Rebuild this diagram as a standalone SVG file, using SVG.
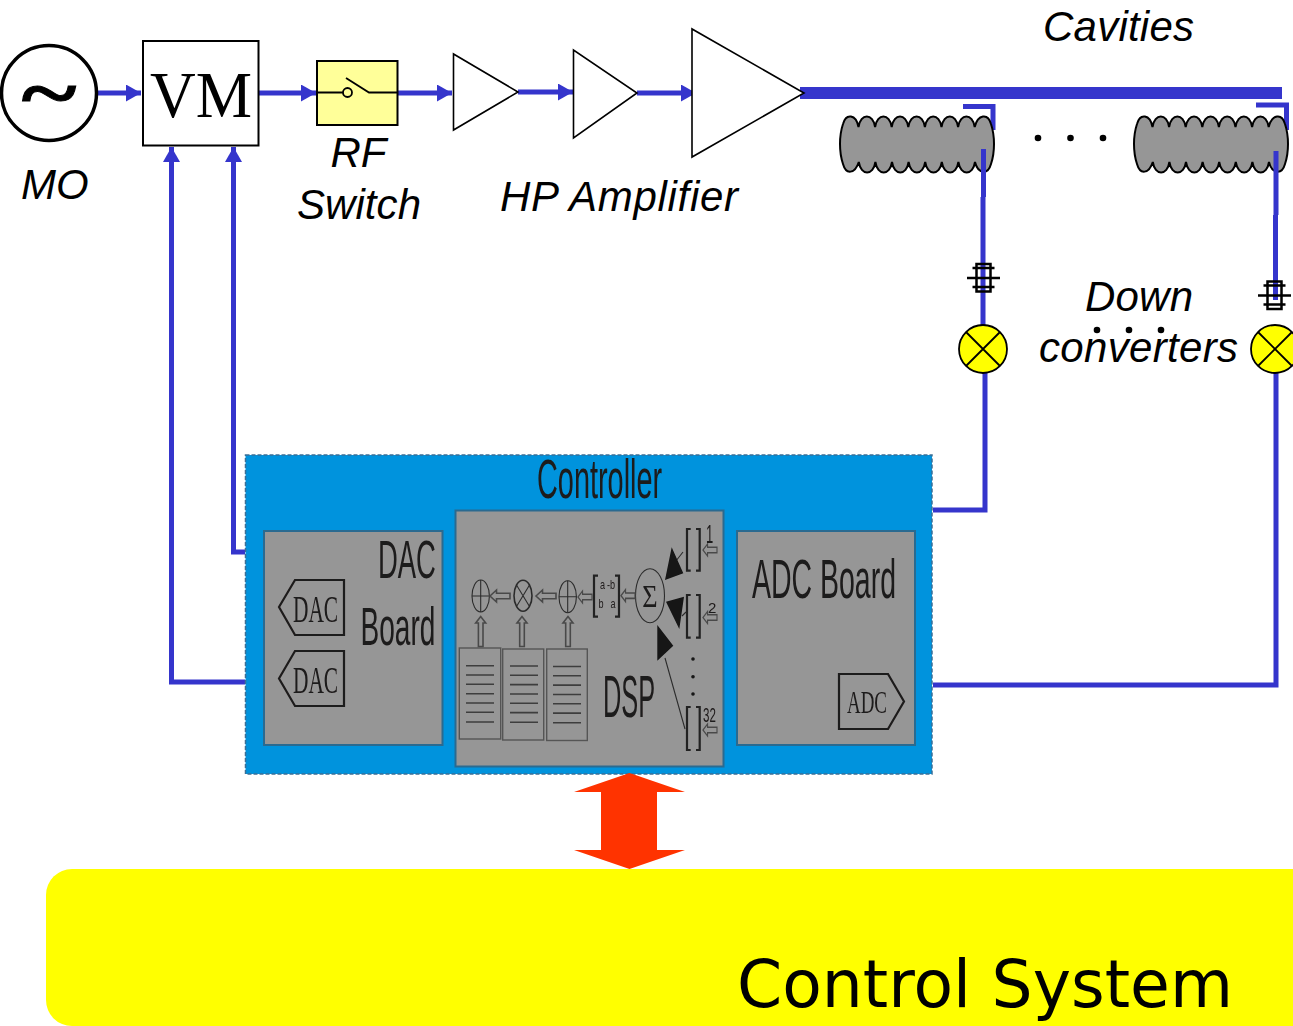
<svg xmlns="http://www.w3.org/2000/svg" width="1293" height="1026" viewBox="0 0 1293 1026">
<style>
.lbl{font-family:"Liberation Sans",Arial,sans-serif;font-style:italic;font-size:42px;fill:#000}
.amp{fill:#fff;stroke:#000;stroke-width:1.6}
.c{fill:none;stroke:#3535cc;stroke-width:5}
.cav{fill:#969696;stroke:#000;stroke-width:2}
.filt{fill:none;stroke:#000;stroke-width:2.5}
.mix{fill:#ffff00;stroke:#000;stroke-width:1.8}
.mixl{stroke:#000;stroke-width:1.8}
.board{fill:#969696;stroke:#2a6a90;stroke-width:2}
.bt{font-family:"Liberation Sans",Arial,sans-serif;fill:#1e1a1a}
.st{font-family:"Liberation Serif","Times New Roman",serif;fill:#1e1a1a}
.pent{fill:none;stroke:#1e1a1a;stroke-width:2.2}
.thin{fill:none;stroke:#2c2c2c;stroke-width:1.1}
.hol{fill:none;stroke:#4a4a4a;stroke-width:1.6}
.tbl{fill:#969696;stroke:#555;stroke-width:1.4}
.tl{stroke:#3c3c3c;stroke-width:1.6}
.br{fill:none;stroke:#222;stroke-width:2.2}
.blk{fill:#141414}
</style>
<defs>
<marker id="ah" markerUnits="userSpaceOnUse" markerWidth="16" markerHeight="17" refX="15" refY="8.5" orient="auto"><path d="M0 0L15 8.5L0 17Z" fill="#3535cc"/></marker>
<path id="cavity" d="M18.500 11c2-14 14.600-14 16.600 0c2-14 14.600-14 16.600 0c2-14 14.600-14 16.600 0c2-14 14.600-14 16.600 0c2-14 14.600-14 16.600 0c2-14 14.600-14 16.600 0c2-14 14.600-14 16.600 0C138-2 148-3 151 8C155 20 155 36 151 48C148 59 138 58 135 46c-2 14-14.600 14-16.600 0c-2 14-14.600 14-16.600 0c-2 14-14.600 14-16.600 0c-2 14-14.600 14-16.600 0c-2 14-14.600 14-16.600 0c-2 14-14.600 14-16.600 0c-2 14-14.600 14-16.600 0C15 58 6 59 3 48C-1 36-1 20 3 8C6-3 16-2 18.500 11Z"/>
<g id="filter"><rect x="-7" y="-14" width="14" height="27.500"/><path d="M-16.500 0H16.500M-11-10H11M-11 9H11"/></g>
<g id="mixer"><circle r="24" class="mix"/><path class="mixl" d="M-17-17L17 17M17-17L-17 17"/></g>
<path id="hl" d="M0 0L6.500-6V-2.700H20V2.700H6.500V6Z"/>
<path id="hu" d="M0 0L-5 6.500H-2.300V30H2.300V6.500H5Z"/>
<g id="lines"><path class="tl" d="M0 0H28M0 9.300H28M0 18.600H28M0 28H28M0 37.300H28M0 46.600H28M0 56.300H28"/></g>
<filter id="soft" x="-2%" y="-2%" width="104%" height="104%"><feGaussianBlur stdDeviation="0.55"/></filter>
</defs>

<g id="connectors">
<path class="c" marker-end="url(#ah)" d="M97 93H141"/>
<path class="c" marker-end="url(#ah)" d="M259 93H316"/>
<path class="c" marker-end="url(#ah)" d="M397 93H452"/>
<path class="c" marker-end="url(#ah)" d="M518 92H573"/>
<path class="c" marker-end="url(#ah)" d="M637 93H696"/>
<path d="M800 93H1282" fill="none" stroke="#3535cc" stroke-width="12"/>
<path class="c" marker-end="url(#ah)" d="M245 682H171.500V147"/>
<path class="c" marker-end="url(#ah)" d="M245 552H233.500V147"/>
<path class="c" d="M933 510H985V373"/>
<path class="c" d="M933 685H1276V373"/>
<path class="c" d="M963 106.500H993V130"/>
<path class="c" d="M1256 105H1286.500V130"/>
</g>

<g id="node-cavity-1"><use href="#cavity" x="840" y="116" class="cav"/></g>
<g id="node-cavity-2"><use href="#cavity" x="1134" y="116" class="cav"/></g>
<g id="connectors-pickup">
<path class="c" d="M983.500 149V197M983 197V325"/>
<path class="c" d="M1276 151V215M1275.500 215V300"/>
</g>

<g id="node-mo">
<circle cx="49" cy="93" r="47.500" fill="#fff" stroke="#000" stroke-width="3.500"/>
<text transform="translate(49 119) scale(1 .75)" text-anchor="middle" font-family="'Liberation Serif',serif" font-weight="bold" font-size="105" stroke="#000" stroke-width="1.200">~</text>
</g>
<text class="lbl" x="21" y="199">MO</text>

<g id="node-vm">
<rect x="143" y="41" width="115.500" height="104.500" fill="#fff" stroke="#000" stroke-width="2"/>
<text x="150" y="116.500" font-family="'Liberation Serif',serif" font-size="66" textLength="102" lengthAdjust="spacingAndGlyphs">VM</text>
</g>

<g id="node-rf-switch">
<rect x="317" y="61" width="80.500" height="64" fill="#ffff99" stroke="#000" stroke-width="2"/>
<path d="M318 92.500H343M346 78L369 92.500H397" fill="none" stroke="#000" stroke-width="1.800"/>
<circle cx="347.500" cy="92.500" r="4.500" fill="#ffff99" stroke="#000" stroke-width="1.800"/>
<text class="lbl" x="330.500" y="167">RF</text>
<text class="lbl" x="297" y="219" textLength="124" lengthAdjust="spacing">Switch</text>
</g>

<g id="node-amp-1"><path class="amp" d="M453.500 54V130L518 92Z"/></g>
<g id="node-amp-2"><path class="amp" d="M573.500 50V138L637 93Z"/></g>
<g id="node-amp-3"><path class="amp" d="M692 29V157L804 93Z"/></g>
<text class="lbl" x="500" y="211" textLength="238" lengthAdjust="spacing">HP Amplifier</text>
<text class="lbl" x="1043" y="41" textLength="151" lengthAdjust="spacing">Cavities</text>
<text class="lbl" x="1085" y="311" textLength="108" lengthAdjust="spacing">Down</text>
<text class="lbl" x="1039" y="362" textLength="199" lengthAdjust="spacing">converters</text>

<g id="dots" fill="#000">
<circle cx="1038" cy="138" r="3.300"/><circle cx="1070.500" cy="138" r="3.300"/><circle cx="1103" cy="138" r="3.300"/>
<circle cx="1097" cy="330" r="3.300"/><circle cx="1129" cy="330" r="3.300"/><circle cx="1161" cy="330" r="3.300"/>
</g>

<g id="node-filter-1"><use href="#filter" x="983.500" y="278" class="filt"/></g>
<g id="node-filter-2"><use href="#filter" x="1274.500" y="295.500" class="filt"/></g>
<g id="node-mixer-1"><use href="#mixer" x="983" y="349"/></g>
<g id="node-mixer-2"><use href="#mixer" x="1275" y="349"/></g>

<g id="node-controller">
<rect x="245.500" y="455" width="686.500" height="319" fill="#0093dd" stroke="#3a6f96" stroke-width="1.500" stroke-dasharray="4 2"/>
<g filter="url(#soft)">
<text class="bt" transform="translate(537 498) scale(.525 1)" font-size="55">Controller</text>

<g id="dac-board">
<rect class="board" x="264" y="531" width="178.500" height="214"/>
<text class="bt" transform="translate(378 578) scale(.518 1)" font-size="53">DAC</text>
<text class="bt" transform="translate(360.500 645) scale(.53 1)" font-size="53">Board</text>
<path class="pent" d="M279 607L295 580H344V635H295Z"/>
<path class="pent" d="M279 678.500L295 651H344V706H295Z"/>
<text class="st" transform="translate(293 622) scale(.5625 1)" font-size="38">DAC</text>
<text class="st" transform="translate(293 693) scale(.5625 1)" font-size="38">DAC</text>
</g>

<g id="dsp">
<rect class="board" x="455.500" y="510.500" width="268" height="256"/>
<rect class="tbl" x="459.300" y="648" width="41.400" height="91"/>
<rect class="tbl" x="502.700" y="649" width="41" height="91"/>
<rect class="tbl" x="546.700" y="649" width="40.600" height="91.500"/>
<use href="#lines" x="466" y="665.700"/><use href="#lines" x="510" y="666"/><use href="#lines" x="553" y="666.500"/>
<g class="thin">
<ellipse cx="480.700" cy="596" rx="8.700" ry="16"/><path d="M472 596H489.400M480.700 580V612"/>
<ellipse cx="523" cy="595.700" rx="9" ry="15.500" stroke-width="1.600"/><path d="M516.500 585L529.500 606.500M529.500 585L516.500 606.500"/>
<ellipse cx="567.700" cy="596.700" rx="8.700" ry="16"/><path d="M559 596.700H576.400M567.700 580.700V612.700"/>
<ellipse cx="650" cy="595.700" rx="14.500" ry="27"/>
<path d="M683 552L672 566M686 612L682 616M665 658L685 729"/>
</g>
<g class="hol">
<use href="#hl" x="490" y="596"/><use href="#hl" x="536" y="596"/><use href="#hl" x="578" y="597" transform="matrix(.7 0 0 1 173.400 0)"/>
<use href="#hl" x="621" y="595.700" transform="matrix(.7 0 0 1 186.300 0)"/>
<use href="#hl" x="703" y="550" transform="matrix(.7 0 0 1 210.900 0)"/>
<use href="#hl" x="703" y="617.500" transform="matrix(.7 0 0 1 210.900 0)"/>
<use href="#hl" x="703" y="730" transform="matrix(.7 0 0 1 210.900 0)"/>
<use href="#hu" x="480.700" y="616.500"/><use href="#hu" x="522" y="616.500"/><use href="#hu" x="568" y="616.500"/>
</g>
<path class="br" d="M598 575.700H594V616.700H598M615 575.700H619V616.700H615"/>
<g class="bt" font-size="13">
<text transform="translate(600 589) scale(.7 1)">a</text>
<text transform="translate(607 589) scale(.7 1)">-b</text>
<text transform="translate(598.500 608) scale(.7 1)">b</text>
<text transform="translate(610.500 608) scale(.7 1)">a</text>
</g>
<text class="st" transform="translate(650 607) scale(.85 1)" font-size="31" text-anchor="middle">Σ</text>
<path class="blk" d="M671.700 547.300L683.300 573.300L665 580ZM666 601.700L684 596.700L679.300 629ZM657.300 625L673.300 645.700L657.300 660.700Z"/>
<path class="br" d="M690.700 529H687V570.700H690.700M696 529H699.700V570.700H696"/>
<path class="br" d="M690.700 595H687V637.700H690.700M696 595H699.700V637.700H696"/>
<path class="br" d="M690.700 707H687V750H690.700M696 707H699.700V750H696"/>
<text class="bt" transform="translate(706 543) scale(.5 1)" font-size="26">1</text>
<text class="bt" transform="translate(708 613)" font-size="15">2</text>
<text class="bt" transform="translate(703 722) scale(.55 1)" font-size="21">32</text>
<g class="blk"><circle cx="693" cy="659" r="1.800"/><circle cx="693" cy="676.700" r="1.800"/><circle cx="693" cy="694" r="1.800"/></g>
<text class="bt" transform="translate(603 716.500) scale(.43 1)" font-size="59">DSP</text>
</g>

<g id="adc-board">
<rect class="board" x="737" y="531" width="178" height="214"/>
<text class="bt" transform="translate(752 598) scale(.518 1)" font-size="55">ADC Board</text>
<path class="pent" d="M839 674H888L904 701.500L888 729H839Z"/>
<text class="st" transform="translate(847 713) scale(.592 1)" font-size="32">ADC</text>
</g>
</g>
</g>

<g id="node-control-system">
<path d="M1293 869H72A26 26 0 0 0 46 895V1000A26 26 0 0 0 72 1026H1293Z" fill="#ffff00"/>
<text x="737" y="1007" font-family="'DejaVu Sans',Verdana,sans-serif" font-size="66" textLength="496" lengthAdjust="spacingAndGlyphs">Control System</text>
</g>

<g id="link-bus"><path d="M629.500 773L685 792H657V850H685L629.500 869L574 850H601V792H574Z" fill="#ff3300"/></g>
</svg>
